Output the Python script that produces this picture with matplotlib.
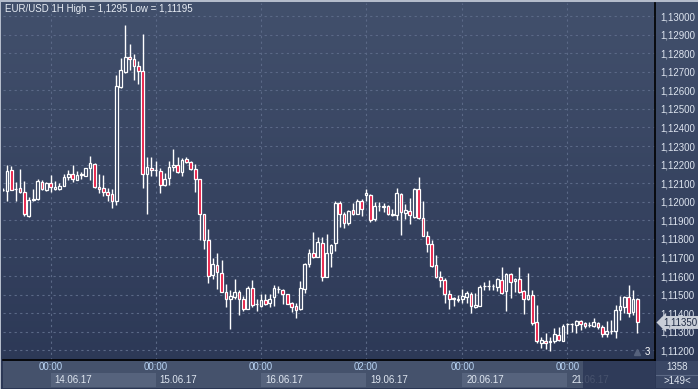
import numpy as np
import matplotlib.pyplot as plt
from matplotlib.patches import Rectangle

plt.rcParams['font.family'] = ['Liberation Sans', 'DejaVu Sans']

# hourly EUR/USD candles, 13.06.17 13:00 .. 21.06.17
opens = [1.12063, 1.12056, 1.12169, 1.12070, 1.12074, 1.12052, 1.11925, 1.12007, 1.12016, 1.12106,
         1.12065, 1.12101, 1.12070, 1.12070, 1.12086, 1.12133, 1.12151, 1.12118, 1.12145, 1.12140,
         1.12180, 1.12203, 1.12079, 1.12072, 1.12052, 1.12041, 1.12002, 1.12617, 1.12700, 1.12779,
         1.12768, 1.12731, 1.12702, 1.12149, 1.12181, 1.12169, 1.12163, 1.12090, 1.12127, 1.12187,
         1.12197, 1.12158, 1.12230, 1.12212, 1.12176, 1.12122, 1.11934, 1.11794, 1.11605, 1.11657,
         1.11619, 1.11512, 1.11474, 1.11485, 1.11512, 1.11479, 1.11424, 1.11533, 1.11447, 1.11438,
         1.11469, 1.11456, 1.11485, 1.11528, 1.11523, 1.11501, 1.11453, 1.11438, 1.11420, 1.11528,
         1.11664, 1.11722, 1.11704, 1.11776, 1.11596, 1.11722, 1.11776, 1.11995, 1.11932, 1.11887,
         1.11953, 1.11935, 1.12002, 1.12039, 1.12034, 1.11908, 1.11975, 1.11973, 1.11977, 1.11930,
         1.11928, 1.12041, 1.11937, 1.11950, 1.11919, 1.12066, 1.11910, 1.11817, 1.11770, 1.11657,
         1.11596, 1.11578, 1.11506, 1.11474, 1.11473, 1.11478, 1.11488, 1.11506, 1.11431, 1.11440,
         1.11546, 1.11547, 1.11547, 1.11542, 1.11578, 1.11517, 1.11610, 1.11573, 1.11584, 1.11519,
         1.11474, 1.11496, 1.11350, 1.11241, 1.11250, 1.11247, 1.11248, 1.11282, 1.11251, 1.11340,
         1.11341, 1.11338, 1.11356, 1.11347, 1.11335, 1.11332, 1.11345, 1.11323, 1.11289, 1.11303,
         1.11305, 1.11417, 1.11431, 1.11485, 1.11408, 1.11476]
highs = [1.12074, 1.12199, 1.12194, 1.12106, 1.12178, 1.12113, 1.12025, 1.12070, 1.12124, 1.12115,
         1.12106, 1.12145, 1.12111, 1.12102, 1.12151, 1.12172, 1.12199, 1.12163, 1.12158, 1.12183,
         1.12248, 1.12206, 1.12149, 1.12144, 1.12074, 1.12068, 1.12684, 1.12774, 1.12950, 1.12851,
         1.12797, 1.12756, 1.12905, 1.12239, 1.12239, 1.12219, 1.12181, 1.12154, 1.12219, 1.12285,
         1.12241, 1.12233, 1.12241, 1.12217, 1.12205, 1.12124, 1.11936, 1.11855, 1.11698, 1.11722,
         1.11686, 1.11555, 1.11523, 1.11584, 1.11524, 1.11494, 1.11546, 1.11578, 1.11474, 1.11503,
         1.11506, 1.11503, 1.11551, 1.11548, 1.11530, 1.11503, 1.11462, 1.11453, 1.11576, 1.11672,
         1.11745, 1.11837, 1.11812, 1.11812, 1.11829, 1.11772, 1.12005, 1.12004, 1.11946, 1.11955,
         1.11995, 1.12016, 1.12013, 1.12066, 1.12043, 1.12000, 1.12000, 1.11991, 1.11982, 1.11962,
         1.12074, 1.12048, 1.11986, 1.12018, 1.12072, 1.12131, 1.12004, 1.11842, 1.11794, 1.11713,
         1.11627, 1.11591, 1.11524, 1.11488, 1.11497, 1.11530, 1.11519, 1.11515, 1.11510, 1.11553,
         1.11569, 1.11578, 1.11557, 1.11591, 1.11646, 1.11618, 1.11618, 1.11591, 1.11646, 1.11524,
         1.11619, 1.11524, 1.11444, 1.11273, 1.11291, 1.11273, 1.11321, 1.11327, 1.11341, 1.11347,
         1.11345, 1.11366, 1.11363, 1.11354, 1.11354, 1.11372, 1.11350, 1.11334, 1.11357, 1.11363,
         1.11444, 1.11492, 1.11494, 1.11551, 1.11524, 1.11483]
lows = [1.12056, 1.12005, 1.12061, 1.12002, 1.12045, 1.11921, 1.11916, 1.12005, 1.12011, 1.12061,
        1.12059, 1.12050, 1.12061, 1.12061, 1.12083, 1.12115, 1.12109, 1.12115, 1.12122, 1.12136,
        1.12115, 1.12072, 1.12045, 1.12032, 1.12002, 1.11966, 1.11980, 1.12612, 1.12693, 1.12711,
        1.12653, 1.12634, 1.12072, 1.11934, 1.12140, 1.12140, 1.12047, 1.12083, 1.12088, 1.12163,
        1.12156, 1.12138, 1.12208, 1.12169, 1.12050, 1.11794, 1.11747, 1.11560, 1.11582, 1.11528,
        1.11512, 1.11431, 1.11314, 1.11479, 1.11390, 1.11413, 1.11420, 1.11435, 1.11411, 1.11431,
        1.11444, 1.11431, 1.11440, 1.11510, 1.11447, 1.11449, 1.11408, 1.11375, 1.11418, 1.11510,
        1.11646, 1.11695, 1.11700, 1.11575, 1.11594, 1.11650, 1.11736, 1.11864, 1.11860, 1.11873,
        1.11928, 1.11932, 1.11925, 1.12004, 1.11892, 1.11898, 1.11952, 1.11946, 1.11928, 1.11925,
        1.11901, 1.11822, 1.11907, 1.11880, 1.11914, 1.11905, 1.11815, 1.11727, 1.11650, 1.11587,
        1.11542, 1.11456, 1.11420, 1.11440, 1.11458, 1.11453, 1.11453, 1.11399, 1.11429, 1.11438,
        1.11524, 1.11524, 1.11524, 1.11517, 1.11505, 1.11413, 1.11483, 1.11512, 1.11510, 1.11397,
        1.11472, 1.11336, 1.11237, 1.11210, 1.11207, 1.11195, 1.11237, 1.11251, 1.11250, 1.11287,
        1.11300, 1.11291, 1.11309, 1.11321, 1.11323, 1.11327, 1.11313, 1.11273, 1.11273, 1.11287,
        1.11264, 1.11363, 1.11402, 1.11381, 1.11390, 1.11295]
closes = [1.12065, 1.12163, 1.12065, 1.12070, 1.12050, 1.11934, 1.12011, 1.12014, 1.12111, 1.12068,
          1.12102, 1.12079, 1.12079, 1.12084, 1.12133, 1.12151, 1.12122, 1.12144, 1.12147, 1.12180,
          1.12206, 1.12077, 1.12068, 1.12052, 1.12038, 1.12002, 1.12623, 1.12707, 1.12779, 1.12768,
          1.12731, 1.12702, 1.12149, 1.12188, 1.12169, 1.12169, 1.12090, 1.12122, 1.12188, 1.12197,
          1.12158, 1.12226, 1.12212, 1.12176, 1.12122, 1.11934, 1.11794, 1.11600, 1.11664, 1.11623,
          1.11515, 1.11479, 1.11492, 1.11512, 1.11479, 1.11424, 1.11533, 1.11444, 1.11449, 1.11470,
          1.11451, 1.11479, 1.11533, 1.11530, 1.11506, 1.11451, 1.11436, 1.11415, 1.11533, 1.11664,
          1.11722, 1.11700, 1.11781, 1.11596, 1.11722, 1.11767, 1.11995, 1.11932, 1.11883, 1.11950,
          1.11932, 1.12004, 1.11962, 1.12048, 1.11903, 1.11977, 1.11977, 1.11975, 1.11932, 1.11932,
          1.12045, 1.11943, 1.11955, 1.11926, 1.12066, 1.11910, 1.11817, 1.11770, 1.11655, 1.11593,
          1.11578, 1.11506, 1.11474, 1.11483, 1.11476, 1.11492, 1.11510, 1.11438, 1.11444, 1.11542,
          1.11548, 1.11548, 1.11549, 1.11584, 1.11510, 1.11610, 1.11569, 1.11584, 1.11515, 1.11474,
          1.11496, 1.11345, 1.11251, 1.11253, 1.11237, 1.11249, 1.11287, 1.11253, 1.11332, 1.11342,
          1.11343, 1.11356, 1.11341, 1.11332, 1.11337, 1.11350, 1.11327, 1.11289, 1.11304, 1.11305,
          1.11417, 1.11438, 1.11488, 1.11402, 1.11476, 1.11350]

day_start = [11, 35, 59, 83, 105, 129]
time_labels = ['00:00', '00:00', '00:00', '02:00', '00:00', '00:00']
date_labels = ['14.06.17', '15.06.17', '16.06.17', '19.06.17', '20.06.17', '21.06.17']
price_ticks = [1.112, 1.113, 1.114, 1.115, 1.116, 1.117, 1.118, 1.119, 1.120,
               1.121, 1.122, 1.123, 1.124, 1.125, 1.126, 1.127, 1.128, 1.129, 1.130]
last_price = 1.11350

W, H = 698, 389
fig = plt.figure(figsize=(W / 100, H / 100), dpi=100)
fig.patch.set_facecolor('#b4bccb')

# background gradient
bg = fig.add_axes([1 / W, 0, 1 - 1 / W, 1 - 2 / H])
grad = np.linspace(0, 1, 256).reshape(-1, 1)
top = np.array([0x42, 0x50, 0x6c]) / 255
bot = np.array([0x2b, 0x37, 0x55]) / 255
img = top + (bot - top) * grad[:, :, None]
bg.imshow(img, aspect='auto', extent=[0, 1, 0, 1])
bg.set_axis_off()

x0, x1 = 3 / W, 655 / W
ax = fig.add_axes([x0, 29 / H, x1 - x0, 357 / H])
ax.set_facecolor('none')
ax.set_xlim(0.1, 149.0)
ax.set_ylim(1.11148, 1.13070)

for p in price_ticks:
    ax.axhline(p, color='#5b6987', lw=0.8, ls=(0, (2, 3)), zorder=1)
for d in day_start:
    ax.axvline(d, color='#5b6987', lw=0.8, ls=(0, (2, 3)), zorder=1)

idx = np.arange(len(opens))
o = np.array(opens)
c = np.array(closes)
ax.vlines(idx, lows, highs, color='white', lw=1, zorder=2)
up = c >= o
ax.bar(idx[up], (c - o)[up], bottom=o[up], width=0.62, facecolor='#35425f',
       edgecolor='white', lw=0.9, zorder=3)
ax.bar(idx[~up], (o - c)[~up], bottom=c[~up], width=0.62, facecolor='#e8123c',
       edgecolor='white', lw=0.9, zorder=3)

ax.set_xticks([])
ax.yaxis.tick_right()
ax.set_yticks(price_ticks)
ax.set_yticklabels([f'{p:.5f}'.replace('.', ',') for p in price_ticks])
ax.tick_params(axis='y', length=0, pad=4, labelsize=7, labelcolor='#dde4ef')
for s in ['top', 'left']:
    ax.spines[s].set_visible(False)
ax.spines['right'].set_color('black')
ax.spines['bottom'].set_color('black')
ax.spines['right'].set_linewidth(1.2)
ax.spines['bottom'].set_linewidth(1.2)

ax.text(0.003, 0.997, 'EUR/USD 1H High = 1,1295 Low = 1,11195', transform=ax.transAxes,
        ha='left', va='top', fontsize=7, color='#e8edf5')
ax.plot([0.972], [0.022], transform=ax.transAxes, marker='^', ms=4, color='#56627c',
        clip_on=False, zorder=4)
ax.text(0.993, 0.008, '3', transform=ax.transAxes, ha='right', va='bottom',
        fontsize=7, color='white')

# last price tag
ax.annotate(f'{last_price:.5f}'.replace('.', ','), xy=(1.0, last_price),
            xycoords=('axes fraction', 'data'), xytext=(6, 0), textcoords='offset points',
            ha='left', va='center', fontsize=7, color='#1e2a44', zorder=10,
            bbox=dict(boxstyle='larrow,pad=0.15', fc='#c9ced8', ec='none'),
            annotation_clip=False)

# time axis panel
tx = fig.add_axes([x0, 1 / H, x1 - x0, 27 / H])
tx.set_xlim(ax.get_xlim())
tx.set_ylim(0, 1)
tx.set_axis_off()
tx.add_patch(Rectangle((0, 0), 1, 1, transform=tx.transAxes, fc='#45526c', zorder=0))
for k, d in enumerate(day_start):
    end = day_start[k + 1] if k + 1 < len(day_start) else 149
    if k % 2 == 0:
        tx.add_patch(Rectangle((d, 0.04), end - d, 0.52, fc='#56637d', ec='none', zorder=1))
    tx.text(d, 0.78, time_labels[k], ha='center', va='center', fontsize=7,
            color='#b7d2f2', zorder=2)
    tx.text(d + 0.9, 0.3, date_labels[k], ha='left', va='center', fontsize=7,
            color='#dfe6f0', zorder=2)
tx.add_patch(Rectangle((132.5, 0), 149 - 132.5, 1, fc='#2c3856', alpha=0.85, ec='none', zorder=3))

# right bottom panel
rp = fig.add_axes([656 / W, 1 / H, 42 / W, 27 / H])
rp.set_xlim(0, 1)
rp.set_ylim(0, 1)
rp.set_axis_off()
rp.add_patch(Rectangle((0, 0), 1, 1, fc='#3a4765', ec='none'))
rp.axhline(0.5, color='#5d6a86', lw=0.8)
rp.text(0.5, 0.76, '1358', ha='center', va='center', fontsize=7, color='#dfe6f0')
rp.text(0.5, 0.27, '>149<', ha='center', va='center', fontsize=7, color='#dfe6f0')

fig.savefig('out.png', dpi=100, facecolor=fig.get_facecolor())
